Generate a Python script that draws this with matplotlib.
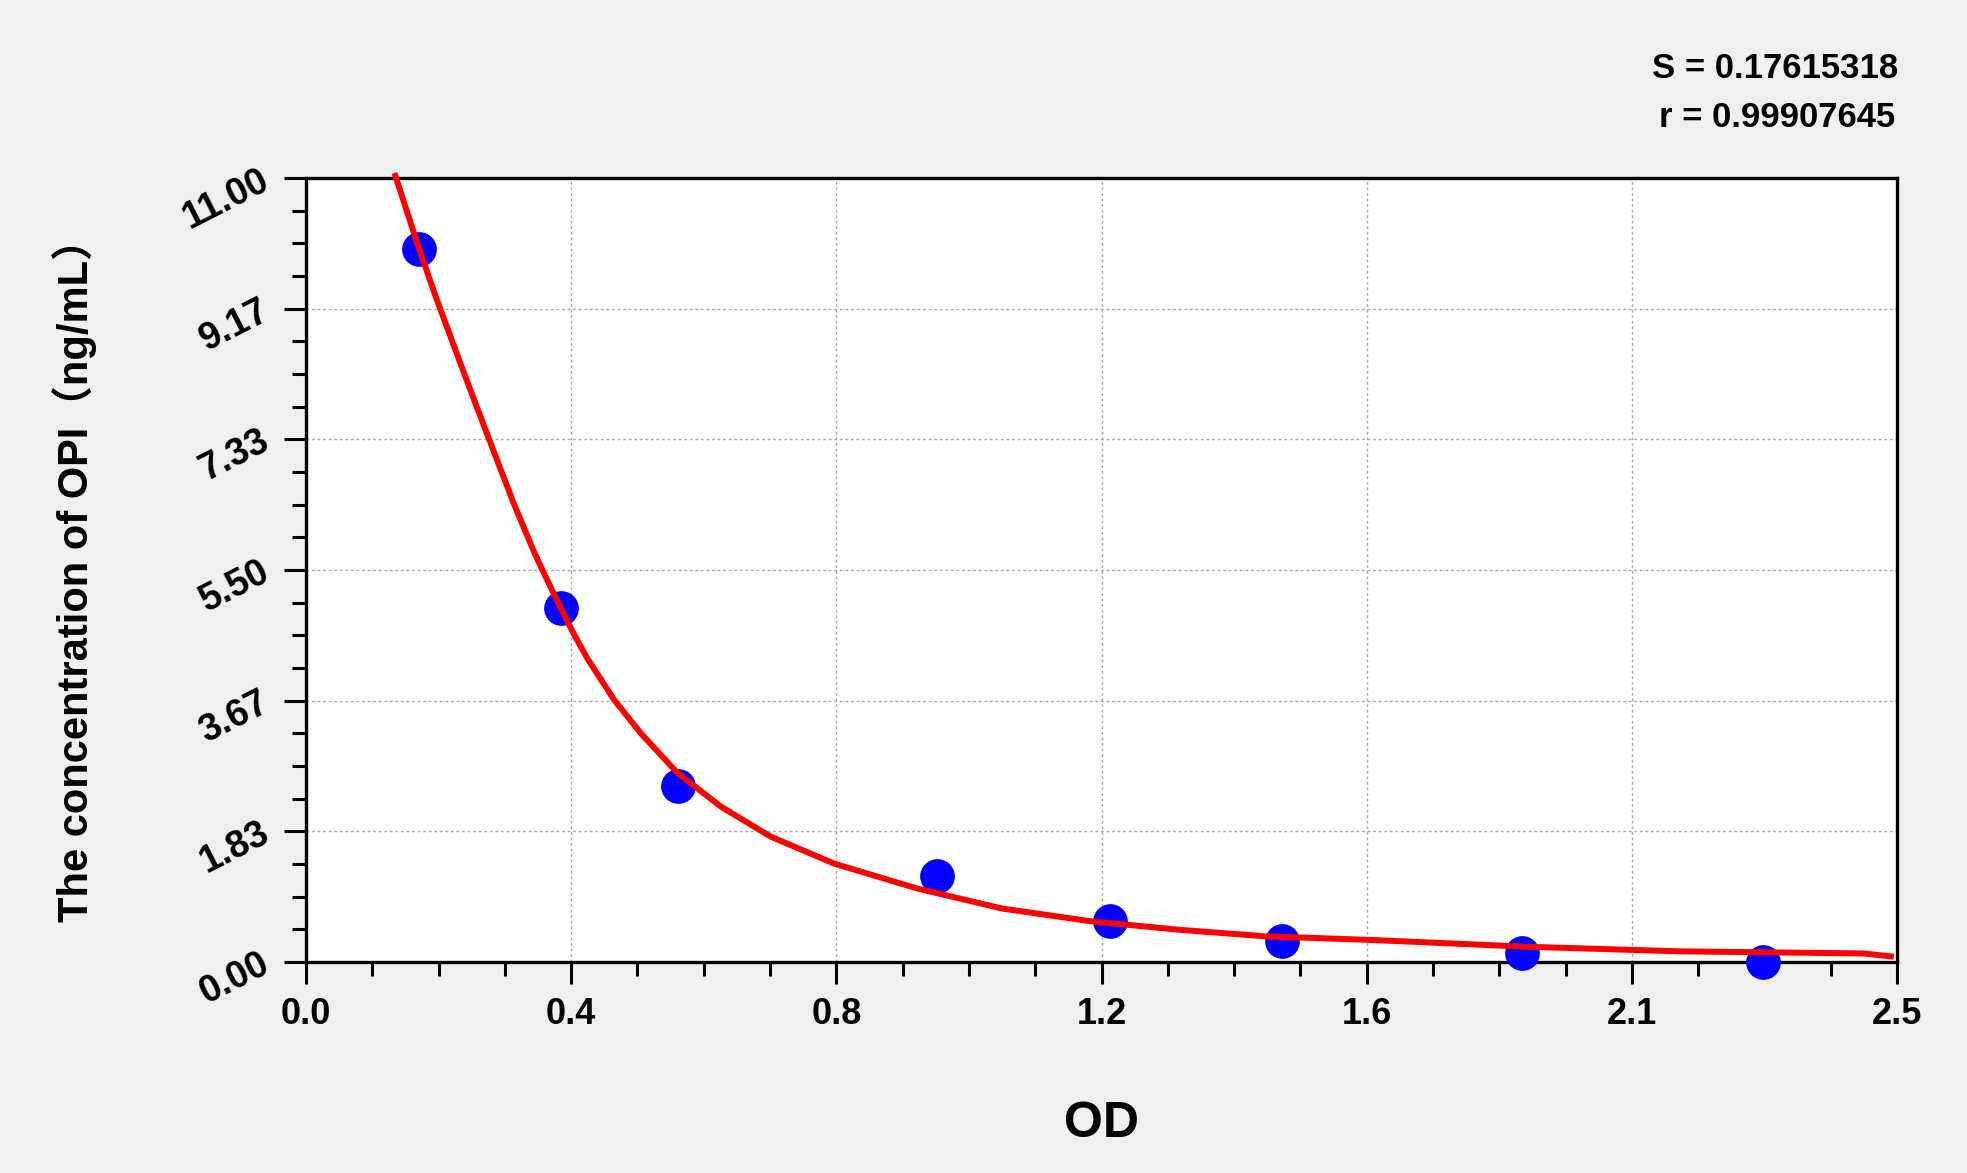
import matplotlib
matplotlib.use("Agg")
import matplotlib.pyplot as plt
from matplotlib.ticker import AutoMinorLocator, FixedLocator, FixedFormatter

# ---- data ----
od_points = [0.178, 0.400, 0.585, 0.992, 1.263, 1.534, 1.910, 2.289]
conc_points = [10.0, 4.96, 2.47, 1.21, 0.58, 0.30, 0.13, 0.0]

curve_od = [0.139, 0.175, 0.202, 0.233, 0.264, 0.296, 0.327, 0.359, 0.380, 0.400,
            0.421, 0.442, 0.484, 0.526, 0.584, 0.652, 0.730, 0.830, 0.961, 1.094,
            1.234, 1.375, 1.508, 1.672, 1.915, 2.157, 2.447, 2.495]
curve_conc = [11.07, 10.08, 9.38, 8.63, 7.89, 7.14, 6.42, 5.74, 5.34, 4.97,
              4.60, 4.26, 3.68, 3.21, 2.65, 2.18, 1.76, 1.38, 1.03, 0.75,
              0.57, 0.45, 0.36, 0.31, 0.215, 0.15, 0.12, 0.075]

x_tick_values = [0.0, 2.5 / 6, 2 * 2.5 / 6, 3 * 2.5 / 6, 4 * 2.5 / 6, 5 * 2.5 / 6, 2.5]
x_tick_labels = ["0.0", "0.4", "0.8", "1.2", "1.6", "2.1", "2.5"]
y_tick_values = [0.0, 11 / 6, 2 * 11 / 6, 3 * 11 / 6, 4 * 11 / 6, 5 * 11 / 6, 11.0]
y_tick_labels = ["0.00", "1.83", "3.67", "5.50", "7.33", "9.17", "11.00"]

stat_S = "S = 0.17615318"
stat_r = "r = 0.99907645"
x_title = "OD"
y_title = "The concentration of OPI（ng/mL）"

# ---- style ----
plt.rcParams['font.family'] = ['Liberation Sans', 'Noto Sans CJK SC', 'DejaVu Sans']
plt.rcParams['font.weight'] = 'bold'

fig = plt.figure(figsize=(19.67, 11.73), dpi=100, facecolor='#F0F0F0')
ax = fig.add_axes([306 / 1967, 1 - 962 / 1173, (1897 - 306) / 1967, (962 - 178) / 1173])
ax.set_facecolor('white')

ax.set_xlim(0, 2.5)
ax.set_ylim(0, 11)

ax.plot(od_points, conc_points, linestyle='none', marker='o', markersize=25,
        color='#0000FF', markeredgewidth=0, zorder=3, clip_on=False)
ax.plot(curve_od, curve_conc, color='#FF0000', linewidth=4.3, zorder=4,
        clip_on=False, solid_capstyle='butt', solid_joinstyle='round')

ax.xaxis.set_major_locator(FixedLocator(x_tick_values))
ax.xaxis.set_major_formatter(FixedFormatter(x_tick_labels))
ax.yaxis.set_major_locator(FixedLocator(y_tick_values))
ax.yaxis.set_major_formatter(FixedFormatter(y_tick_labels))
ax.xaxis.set_minor_locator(AutoMinorLocator(4))
ax.yaxis.set_minor_locator(AutoMinorLocator(4))

ax.grid(True, which='major', color='#A8A8A8', linestyle=(0, (2, 2)), linewidth=1.0, zorder=0)
ax.set_axisbelow(True)

for s in ax.spines.values():
    s.set_linewidth(2.4)
    s.set_color('black')

ax.tick_params(axis='both', which='major', direction='out', length=16, width=2.2,
               color='black')
ax.tick_params(axis='both', which='minor', direction='out', length=10, width=2.2,
               color='black')
ax.tick_params(axis='x', which='major', pad=9, labelsize=26)
ax.tick_params(axis='y', which='major', pad=12, labelsize=27)

for lab in ax.get_xticklabels():
    lab.set_fontweight('bold')
for lab in ax.get_yticklabels():
    lab.set_fontweight('bold')
    lab.set_rotation(27)
    lab.set_rotation_mode('anchor')
    lab.set_ha('right')
    lab.set_va('center')

ax.set_xlabel(x_title, fontsize=36, fontweight='bold', labelpad=50)
ax.set_ylabel(y_title, fontsize=30, fontweight='bold', labelpad=58)

fig.text(1898 / 1967, 1 - 78 / 1173, stat_S, ha='right', va='baseline',
         fontsize=25, fontweight='bold')
fig.text(1895 / 1967, 1 - 127 / 1173, stat_r, ha='right', va='baseline',
         fontsize=25, fontweight='bold')

fig.savefig('out.png', dpi=100, facecolor=fig.get_facecolor())
